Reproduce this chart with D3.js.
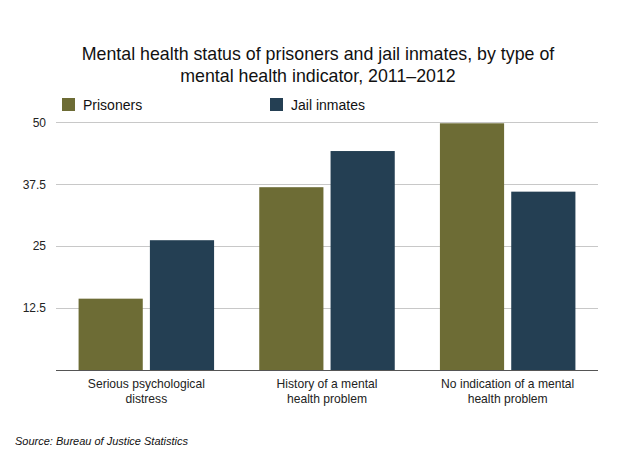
<!DOCTYPE html>
<html>
<head>
<meta charset="utf-8">
<script src="https://cdn.jsdelivr.net/npm/d3@7"></script>
<style>
  html, body { margin: 0; padding: 0; background: #fff; }
  svg { display: block; font-family: "Liberation Sans", Helvetica, Arial, sans-serif; }
</style>
</head>
<body>
<svg id="chart" width="620" height="465"></svg>
<script>
const categories = [
  ["Serious psychological", "distress"],
  ["History of a mental", "health problem"],
  ["No indication of a mental", "health problem"]
];
const seriesNames = ["Prisoners", "Jail inmates"];
const prisoners = [14.4, 36.9, 49.8];
const jailInmates = [26.2, 44.2, 36.0];
const yTicks = [12.5, 25, 37.5, 50];
const colors = ["#6d6c35", "#243f53"];

const svg = d3.select("#chart");
const x0 = 56, x1 = 598, yBase = 370, yTop = 122.3;
const FONT = "Liberation Sans, Helvetica, Arial, sans-serif";

// Title
const title = svg.append("text")
  .attr("x", 318).attr("text-anchor", "middle")
  .attr("font-size", 17.8).attr("fill", "#111");
title.append("tspan").attr("x", 318).attr("y", 60).text("Mental health status of prisoners and jail inmates, by type of");
title.append("tspan").attr("x", 318).attr("y", 82).text("mental health indicator, 2011\u20132012");

// Scales
const idx = d3.range(categories.length);
const x = d3.scaleBand().domain(idx).range([x0, x1]).paddingInner(0.25).paddingOuter(0.125);
const xs = d3.scaleBand().domain([0, 1]).range([0, x.bandwidth()]).paddingInner(0.1);
const y = d3.scaleLinear().domain([0, 50]).range([yBase, yTop]);

// Gridlines
svg.append("g").selectAll("line").data(yTicks).join("line")
  .attr("x1", x0).attr("x2", x1)
  .attr("y1", d => Math.round(y(d)) + 0.5).attr("y2", d => Math.round(y(d)) + 0.5)
  .attr("stroke", "#c8c8c8").attr("stroke-width", 1);

// Y axis labels
const yAxis = d3.axisLeft(y).tickValues(yTicks).tickSize(0).tickPadding(0).tickFormat(d3.format("~g"));
const yg = svg.append("g").attr("transform", `translate(${x0 - 10},0)`).call(yAxis);
yg.select(".domain").remove();
yg.selectAll("text").attr("font-size", 12).attr("fill", "#222").attr("font-family", FONT);

// Bars
const data = idx.map(i => ({ i, vals: [prisoners[i], jailInmates[i]] }));
const groups = svg.append("g").selectAll("g").data(data).join("g")
  .attr("transform", d => `translate(${x(d.i)},0)`);
groups.selectAll("rect").data(d => d.vals.map((v, s) => ({ v, s }))).join("rect")
  .attr("x", d => xs(d.s)).attr("width", xs.bandwidth())
  .attr("y", d => y(d.v)).attr("height", d => yBase - y(d.v))
  .attr("fill", d => colors[d.s]);

// Baseline
svg.append("line").attr("x1", x0).attr("x2", x1)
  .attr("y1", yBase + 0.5).attr("y2", yBase + 0.5)
  .attr("stroke", "#555").attr("stroke-width", 1.2);

// X labels
const xAxis = d3.axisBottom(x).tickSize(0).tickFormat(() => "");
const xg = svg.append("g").attr("transform", `translate(0,${yBase})`).call(xAxis);
xg.select(".domain").remove();
xg.selectAll(".tick text").each(function (i) {
  const t = d3.select(this).attr("y", 0).attr("dy", null)
    .attr("font-size", 12.1).attr("fill", "#222").attr("font-family", FONT);
  categories[i].forEach((line, k) => {
    t.append("tspan").attr("x", 0).attr("y", 18 + k * 14.5).text(line);
  });
});

// Legend
const legendX = [62, 270];
const lg = svg.append("g").selectAll("g").data(seriesNames).join("g")
  .attr("transform", (d, i) => `translate(${legendX[i]},98)`);
lg.append("rect").attr("width", 13).attr("height", 13).attr("fill", (d, i) => colors[i]);
lg.append("text").attr("x", 21).attr("y", 11.5).attr("font-size", 14).attr("fill", "#111").text(d => d);

// Source
svg.append("text").attr("x", 15).attr("y", 445)
  .attr("font-size", 11).attr("font-style", "italic").attr("fill", "#111")
  .text("Source: Bureau of Justice Statistics");
</script>
</body>
</html>
